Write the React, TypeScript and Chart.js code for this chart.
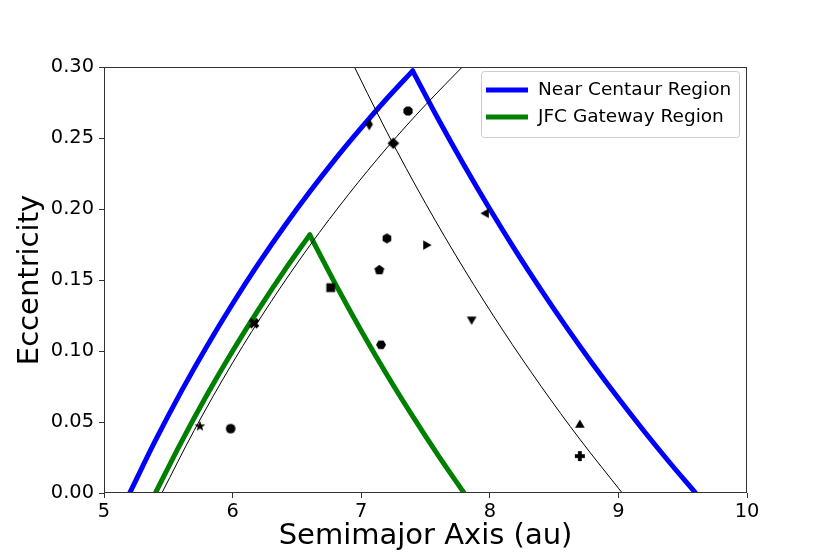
import React, { useEffect, useRef } from 'react';
import { Chart, registerables } from 'chart.js';

Chart.register(...registerables);

// Axis limits / ticks
const xMin = 5;
const xMax = 10;
const yMin = 0;
const yMax = 0.3;
const xStep = 1;
const yStep = 0.05;

// Near Centaur Region (blue) - rising branch and falling branch
const nearLeftA = [5.2, 5.4, 5.6, 5.8, 6.0, 6.2, 6.4, 6.6, 6.8, 7.0, 7.2, 7.4];
const nearLeftE = [0, 0.037, 0.0714, 0.1034, 0.1333, 0.1613, 0.1875, 0.2121, 0.2353, 0.2571, 0.2778, 0.2973];
const nearRightA = [7.4, 7.6, 7.8, 8.0, 8.2, 8.4, 8.6, 8.8, 9.0, 9.2, 9.4, 9.6];
const nearRightE = [0.2973, 0.2632, 0.2308, 0.2, 0.1707, 0.1429, 0.1163, 0.0909, 0.0667, 0.0435, 0.0213, 0];

// JFC Gateway Region (green)
const jfcLeftA = [5.4, 5.6, 5.8, 6.0, 6.2, 6.4, 6.6];
const jfcLeftE = [0, 0.0357, 0.069, 0.1, 0.129, 0.1563, 0.1818];
const jfcRightA = [6.6, 6.8, 7.0, 7.2, 7.4, 7.6, 7.8];
const jfcRightE = [0.1818, 0.1471, 0.1143, 0.0833, 0.0541, 0.0263, 0];

// Thin black guide curves
const guide1A = [5.45, 5.7, 6.0, 6.3, 6.6, 6.9, 7.2, 7.5, 7.8];
const guide1E = [0, 0.0439, 0.0917, 0.1349, 0.1742, 0.2101, 0.2431, 0.2733, 0.3013];
const guide2A = [6.9, 7.2, 7.5, 7.8, 8.1, 8.4, 8.7, 9.03];
const guide2E = [0.3087, 0.2542, 0.204, 0.1577, 0.1148, 0.075, 0.0379, 0];

// Objects (scatter)
const objA = [5.746, 5.985, 6.166, 6.763, 7.2, 7.141, 7.154, 7.364, 7.063, 7.25, 7.504, 7.97, 7.859, 8.7, 8.7];
const objE = [0.047, 0.0453, 0.1195, 0.1446, 0.1793, 0.157, 0.1044, 0.269, 0.2596, 0.2463, 0.1746, 0.197, 0.1223, 0.0479, 0.026];
const objMarker = ['*', 'o', 'X', 's', 'h', 'p', 'H', '8', 'd', 'D', '>', '<', 'v', '^', 'P'];

const legendLabels = ['Near Centaur Region', 'JFC Gateway Region'];
const legendColors = ['#0000ff', '#008000'];

const FONT = "'DejaVu Sans', sans-serif";

function pairs(a: number[], e: number[]) {
  return a.map((x, i) => ({ x, y: e[i] }));
}

function poly(ctx: CanvasRenderingContext2D, c: number, n: number, r: number, rot: number) {
  ctx.beginPath();
  for (let i = 0; i < n; i++) {
    const ang = rot + (i * 2 * Math.PI) / n;
    const px = c + r * Math.cos(ang);
    const py = c + r * Math.sin(ang);
    if (i === 0) ctx.moveTo(px, py);
    else ctx.lineTo(px, py);
  }
  ctx.closePath();
  ctx.fill();
}

function makeMarker(m: string): HTMLCanvasElement {
  const S = 14;
  const cv = document.createElement('canvas');
  cv.width = S;
  cv.height = S;
  const ctx = cv.getContext('2d')!;
  ctx.fillStyle = '#000';
  const c = S / 2;
  const up = -Math.PI / 2;
  switch (m) {
    case 'o':
      ctx.beginPath();
      ctx.arc(c, c, 4.8, 0, Math.PI * 2);
      ctx.fill();
      break;
    case '8':
      poly(ctx, c, 8, 5.0, Math.PI / 8);
      break;
    case '^':
      poly(ctx, c, 3, 5.6, up);
      break;
    case 'v':
      poly(ctx, c, 3, 5.6, Math.PI / 2);
      break;
    case '<':
      poly(ctx, c, 3, 5.6, Math.PI);
      break;
    case '>':
      poly(ctx, c, 3, 5.6, 0);
      break;
    case 's':
      ctx.fillRect(c - 4.4, c - 4.4, 8.8, 8.8);
      break;
    case 'p':
      poly(ctx, c, 5, 5.2, up);
      break;
    case 'h':
      poly(ctx, c, 6, 5.0, up);
      break;
    case 'H':
      poly(ctx, c, 6, 5.0, 0);
      break;
    case 'D':
      poly(ctx, c, 4, 5.8, 0);
      break;
    case 'd': {
      ctx.beginPath();
      ctx.moveTo(c, c - 6);
      ctx.lineTo(c + 3.6, c);
      ctx.lineTo(c, c + 6);
      ctx.lineTo(c - 3.6, c);
      ctx.closePath();
      ctx.fill();
      break;
    }
    case '*': {
      ctx.beginPath();
      for (let i = 0; i < 10; i++) {
        const r = i % 2 === 0 ? 5.6 : 2.3;
        const ang = up + (i * Math.PI) / 5;
        const px = c + r * Math.cos(ang);
        const py = c + r * Math.sin(ang);
        if (i === 0) ctx.moveTo(px, py);
        else ctx.lineTo(px, py);
      }
      ctx.closePath();
      ctx.fill();
      break;
    }
    case 'P': {
      const w = 1.9;
      const L = 5;
      ctx.fillRect(c - w, c - L, 2 * w, 2 * L);
      ctx.fillRect(c - L, c - w, 2 * L, 2 * w);
      break;
    }
    case 'X': {
      ctx.save();
      ctx.translate(c, c);
      ctx.rotate(Math.PI / 4);
      const w = 2.0;
      const L = 5.6;
      ctx.fillRect(-w, -L, 2 * w, 2 * L);
      ctx.fillRect(-L, -w, 2 * L, 2 * w);
      ctx.restore();
      break;
    }
    default:
      ctx.beginPath();
      ctx.arc(c, c, 4.5, 0, Math.PI * 2);
      ctx.fill();
  }
  return cv;
}

const decorPlugin = {
  id: 'decor',
  afterDraw(chart: any) {
    const { ctx, chartArea } = chart;
    const { left, right, top, bottom } = chartArea;
    ctx.save();
    // frame
    ctx.strokeStyle = '#333';
    ctx.lineWidth = 1;
    ctx.strokeRect(left + 0.5, top + 0.5, right - left - 1, bottom - top - 1);

    // axis titles
    ctx.fillStyle = '#000';
    ctx.font = `29px ${FONT}`;
    ctx.textAlign = 'center';
    ctx.textBaseline = 'middle';
    ctx.fillText('Semimajor Axis (au)', (left + right) / 2, 536);
    ctx.save();
    ctx.translate(30, (top + bottom) / 2);
    ctx.rotate(-Math.PI / 2);
    ctx.fillText('Eccentricity', 0, 0);
    ctx.restore();

    // legend
    const bx = right - 266;
    const by = top + 4;
    const bw = 258;
    const bh = 66;
    ctx.fillStyle = 'rgba(255,255,255,0.8)';
    ctx.strokeStyle = '#cccccc';
    ctx.lineWidth = 1;
    ctx.beginPath();
    (ctx as any).roundRect(bx + 0.5, by + 0.5, bw, bh, 3);
    ctx.fill();
    ctx.stroke();
    ctx.font = `18.5px ${FONT}`;
    ctx.textAlign = 'left';
    ctx.textBaseline = 'middle';
    for (let i = 0; i < legendLabels.length; i++) {
      const y = by + 19 + i * 27;
      ctx.strokeStyle = legendColors[i];
      ctx.lineWidth = 5;
      ctx.lineCap = 'butt';
      ctx.beginPath();
      ctx.moveTo(bx + 5, y);
      ctx.lineTo(bx + 47, y);
      ctx.stroke();
      ctx.fillStyle = '#000';
      ctx.fillText(legendLabels[i], bx + 57, y);
    }
    ctx.restore();
  },
};

export default function App() {
  const ref = useRef<HTMLCanvasElement | null>(null);

  useEffect(() => {
    document.body.style.margin = '0';
    const canvas = ref.current!;
    const markers = objMarker.map(makeMarker);

    const lineDs = (label: string, a: number[], e: number[], color: string, width: number) => ({
      type: 'line' as const,
      label,
      data: pairs(a, e),
      borderColor: color,
      backgroundColor: color,
      borderWidth: width,
      pointRadius: 0,
      pointHoverRadius: 0,
      fill: false,
      cubicInterpolationMode: 'monotone' as const,
      borderCapStyle: 'round' as const,
      order: 1,
    });

    const chart = new Chart(canvas, {
      type: 'scatter',
      data: {
        datasets: [
          {
            type: 'scatter',
            label: 'objects',
            data: pairs(objA, objE),
            pointStyle: markers as any,
            backgroundColor: '#000',
            borderColor: '#000',
            pointRadius: 5,
            order: 0,
          } as any,
          lineDs('guide1', guide1A, guide1E, '#000', 1),
          lineDs('guide2', guide2A, guide2E, '#000', 1),
          lineDs('jfcL', jfcLeftA, jfcLeftE, legendColors[1], 5),
          lineDs('jfcR', jfcRightA, jfcRightE, legendColors[1], 5),
          lineDs('nearL', nearLeftA, nearLeftE, legendColors[0], 5),
          lineDs('nearR', nearRightA, nearRightE, legendColors[0], 5),
        ],
      },
      options: {
        responsive: false,
        animation: false,
        events: [],
        layout: { padding: { top: 67, right: 83, left: 0, bottom: 0 } },
        plugins: {
          legend: { display: false },
          tooltip: { enabled: false },
        },
        scales: {
          x: {
            type: 'linear',
            min: xMin,
            max: xMax,
            afterFit: (s: any) => {
              s.height = 61;
            },
            grid: {
              drawOnChartArea: false,
              drawTicks: true,
              tickLength: 5,
              color: '#333',
              lineWidth: 1,
            },
            border: { display: false },
            ticks: {
              stepSize: xStep,
              color: '#000',
              padding: 2,
              font: { family: FONT, size: 19.4 },
              callback: (v: any) => String(v),
            },
          },
          y: {
            type: 'linear',
            min: yMin,
            max: yMax,
            afterFit: (s: any) => {
              s.width = 104;
            },
            grid: {
              drawOnChartArea: false,
              drawTicks: true,
              tickLength: 5,
              color: '#333',
              lineWidth: 1,
            },
            border: { display: false },
            ticks: {
              stepSize: yStep,
              color: '#000',
              padding: 5,
              font: { family: FONT, size: 19.4 },
              callback: (v: any) => Number(v).toFixed(2),
            },
          },
        },
      },
      plugins: [decorPlugin],
    });
    return () => chart.destroy();
  }, []);

  return (
    <div style={{ width: 830, height: 554 }}>
      <canvas ref={ref} width={830} height={554} style={{ width: 830, height: 554, display: 'block' }} />
    </div>
  );
}
